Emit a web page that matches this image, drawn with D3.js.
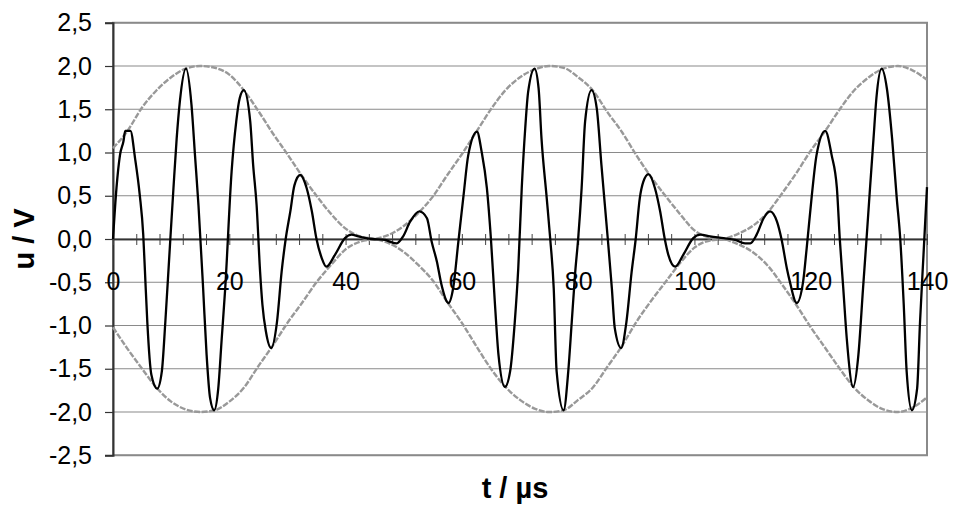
<!DOCTYPE html>
<html>
<head>
<meta charset="utf-8">
<script src="https://cdn.jsdelivr.net/npm/d3@7"></script>
<style>
  body { margin: 0; background: #fff; }
  svg { display: block; font-family: "Liberation Sans", Arial, sans-serif; }
</style>
</head>
<body>
<div id="chart"></div>
<script>
const sigT = [0.0, 0.6, 1.2, 1.8, 2.1, 3.0, 3.8, 4.6, 5.2, 5.5, 5.9, 6.6, 7.6, 8.4, 9.0, 9.7, 10.4, 10.95, 11.5, 12.55,
  13.5, 14.1, 14.7, 15.5, 16.1, 16.7, 17.4, 18.1, 18.7, 19.3, 20.4, 21.2, 21.8, 22.5,
  23.6, 24.1, 24.7, 25.3, 25.7, 26.3, 27.2, 28.2, 29.0, 29.7, 30.5, 31.2, 32.2, 33.3, 34.2, 35.0, 35.9, 36.7, 38.2, 39.9, 41.0, 42.2, 44.5, 46.8,
  47.6, 48.8, 49.9, 51.1, 52.7, 54.0, 54.8, 55.7, 56.5, 57.7, 58.5, 59.4, 60.3, 61.1, 62.6, 63.4, 64.3, 65.0, 65.7, 66.3, 67.4, 68.3, 69.1, 69.7,
  70.3, 70.9, 71.4, 72.5, 73.2, 73.7, 74.6, 75.2, 75.8, 76.3, 77.5, 78.3, 78.9, 79.5, 80.0, 80.6, 81.2, 82.3, 83.2, 84.0, 84.6, 85.1, 85.8, 86.3, 87.4, 88.3, 89.2, 89.9, 90.6, 91.2, 92.1,
  93.2, 94.1, 94.9, 95.5, 96.7, 98.1, 99.8, 101.0, 102.7, 105.0, 107.0, 108.7, 109.6, 110.7, 111.9, 113.0, 114.2, 115.0, 115.9, 116.4,
  117.6, 118.7, 119.3, 120.2, 121.0, 122.5, 123.6, 124.5, 125.0, 125.6, 126.2, 127.3, 128.2, 129.0, 129.6, 130.2, 130.8, 131.3, 132.2, 133.1, 134.0, 134.8, 135.4, 136.0, 136.5, 137.4, 138.3, 138.8, 139.4, 140.0];
const sigU = [0.0, 0.59, 0.97, 1.13, 1.25, 1.25, 0.93, 0.51, 0.05, -0.38, -0.96, -1.57, -1.73, -1.53, -0.96, -0.18, 0.59, 1.16, 1.59, 1.97,
  1.55, 0.97, 0.39, -0.57, -1.34, -1.84, -1.98, -1.73, -1.15, -0.57, 0.78, 1.36, 1.63, 1.72,
  1.36, 0.86, 0.39, -0.38, -0.76, -1.07, -1.26, -0.96, -0.38, 0.0, 0.32, 0.62, 0.74, 0.59, 0.32, 0.0, -0.22, -0.32, -0.18, 0.01, 0.05, 0.03, 0.0, -0.01,
  -0.03, -0.05, 0.03, 0.2, 0.32, 0.24, -0.03, -0.26, -0.53, -0.74, -0.57, -0.03, 0.51, 0.97, 1.24, 1.01, 0.59, 0.0, -0.76, -1.34, -1.71, -1.53, -0.96, -0.34,
  0.59, 1.28, 1.70, 1.97, 1.74, 1.16, 0.47, 0.0, -0.57, -1.53, -1.98, -1.53, -0.96, -0.38, 0.0, 0.59, 1.36, 1.72, 1.51, 0.86, 0.39, 0.0, -0.57, -1.03, -1.26, -0.96, -0.38, 0.0, 0.47, 0.66, 0.75,
  0.59, 0.32, 0.0, -0.18, -0.32, -0.18, 0.01, 0.05, 0.03, 0.01, -0.01, -0.05, -0.05, 0.05, 0.24, 0.32, 0.2, -0.01, -0.34, -0.49,
  -0.74, -0.49, -0.11, 0.51, 0.97, 1.25, 0.97, 0.59, 0.0, -0.57, -1.15, -1.71, -1.34, -0.57, 0.0, 0.59, 1.16, 1.63, 1.97, 1.74, 1.16, 0.47, 0.0, -0.76, -1.53, -1.98, -1.73, -0.96, -0.18, 0.6];

// gray envelope curves
const envT = [0, 2.5, 5, 7.5, 10, 12.5, 15, 17.5, 20, 22.5, 25, 27.5, 30, 32.5, 35, 37.5, 40, 42.5, 45, 47.5, 50, 52.5, 55, 57.5, 60, 62.5, 65, 67.5, 70,
  72.5, 75, 77.5, 80, 82.5, 85, 87.5, 90, 92.5, 95, 97.5, 100, 102.5, 105, 107.5, 110, 112.5, 115, 117.5, 120, 122.5, 125, 127.5, 130, 132.5, 135, 137.5, 140];
const envA = [1.05, 1.25, 1.52, 1.72, 1.87, 1.97, 2.0, 1.98, 1.9, 1.72, 1.48, 1.22, 0.98, 0.73, 0.5, 0.29, 0.12, 0.03, 0.0, -0.05, -0.15, -0.3, -0.48, -0.73, -0.97, -1.24, -1.5, -1.71, -1.86,
  -1.96, -2.0, -1.98, -1.86, -1.72, -1.48, -1.24, -0.96, -0.72, -0.5, -0.28, -0.1, -0.02, 0.0, 0.06, 0.15, 0.3, 0.52, 0.76, 1.02, 1.25, 1.5, 1.72, 1.87, 1.97, 2.0, 1.95, 1.84];
const envB = [-1.02, -1.27, -1.5, -1.72, -1.88, -1.97, -2.0, -1.98, -1.88, -1.72, -1.47, -1.23, -0.97, -0.74, -0.5, -0.3, -0.12, -0.03, 0.0, 0.05, 0.15, 0.3, 0.49, 0.74, 0.98, 1.24, 1.5, 1.72, 1.87,
  1.96, 2.0, 1.98, 1.87, 1.72, 1.47, 1.24, 0.97, 0.72, 0.5, 0.29, 0.1, 0.02, 0.0, -0.06, -0.15, -0.3, -0.52, -0.76, -1.02, -1.26, -1.5, -1.72, -1.87, -1.97, -2.0, -1.95, -1.83];

const yTicks = [-2.5, -2, -1.5, -1, -0.5, 0, 0.5, 1, 1.5, 2, 2.5];
const xLabels = [0, 20, 40, 60, 80, 100, 120, 140];

const width = 954;
const height = 508;
const margin = { top: 22.75, left: 113, bottom: 52.75, right: 27 };
const iwidth = width - margin.left - margin.right;
const iheight = height - margin.top - margin.bottom;

const svg = d3.select("#chart").append("svg")
  .attr("width", width)
  .attr("height", height);

const g = svg.append("g")
  .attr("transform", `translate(${margin.left},${margin.top})`);

const x = d3.scaleLinear().domain([0, 140]).range([0, iwidth]);
const y = d3.scaleLinear().domain([-2.5, 2.5]).range([iheight, 0]);

const de = d3.formatLocale({ decimal: ",", thousands: ".", grouping: [3], currency: ["", ""], minus: "-" });
const fmt = de.format(".1f");

// gridlines
g.append("g").selectAll("line").data(yTicks).enter().append("line")
  .attr("x1", 0).attr("x2", iwidth)
  .attr("y1", d => y(d)).attr("y2", d => y(d))
  .attr("stroke", "#8a8a8a").attr("stroke-width", 1.2);

// frame
g.append("rect").attr("x", 0).attr("y", 0).attr("width", iwidth).attr("height", iheight)
  .attr("fill", "none").attr("stroke", "#8a8a8a").attr("stroke-width", 2);

// y axis
const yAxis = g.append("g").call(d3.axisLeft(y).tickValues(yTicks).tickFormat(fmt).tickSize(8).tickPadding(13));
yAxis.select(".domain").attr("stroke", "#333").attr("stroke-width", 2);
yAxis.selectAll(".tick line").attr("stroke", "#333").attr("stroke-width", 1.2);
yAxis.selectAll("text").attr("font-size", 25).attr("fill", "#000").attr("font-family", "Liberation Sans, Arial, sans-serif");

// x axis at u = 0 with crossing ticks
const minorTicks = d3.range(0, 141, 4);
const xDown = g.append("g").attr("transform", `translate(0,${y(0)})`)
  .call(d3.axisBottom(x).tickValues(minorTicks).tickFormat("").tickSize(6).tickSizeOuter(0));
const xUp = g.append("g").attr("transform", `translate(0,${y(0)})`)
  .call(d3.axisTop(x).tickValues(minorTicks).tickFormat("").tickSize(5).tickSizeOuter(0));
[xDown, xUp].forEach(a => {
  a.select(".domain").attr("stroke", "#333").attr("stroke-width", 1.5);
  a.selectAll(".tick line").attr("stroke", "#444").attr("stroke-width", 1);
});

const xLab = g.append("g").attr("transform", `translate(0,${y(0)})`)
  .call(d3.axisBottom(x).tickValues(xLabels).tickFormat(d => d).tickSize(0).tickPadding(33));
xLab.select(".domain").remove();
xLab.selectAll("text").attr("font-size", 25).attr("fill", "#000").attr("font-family", "Liberation Sans, Arial, sans-serif");

// envelopes
const envLine = vals => d3.line()
  .x((d, i) => x(envT[i]))
  .y((d, i) => y(vals[i]))
  .curve(d3.curveMonotoneX)(envT);

[envA, envB].forEach(vals => {
  g.append("path")
    .attr("d", envLine(vals))
    .attr("fill", "none")
    .attr("stroke", "#999")
    .attr("stroke-width", 2.4)
    .attr("stroke-dasharray", "6,1.5");
});

// signal
const sigLine = d3.line()
  .x((d, i) => x(sigT[i]))
  .y((d, i) => y(sigU[i]))
  .curve(d3.curveMonotoneX);

g.append("path")
  .attr("d", sigLine(sigT))
  .attr("fill", "none")
  .attr("stroke", "#000")
  .attr("stroke-width", 2.3)
  .attr("stroke-linejoin", "round");

// axis titles
svg.append("text")
  .attr("x", margin.left + iwidth / 2 - 5)
  .attr("y", 498)
  .attr("text-anchor", "middle")
  .attr("font-size", 29)
  .attr("font-weight", "bold")
  .text("t / µs");

svg.append("text")
  .attr("transform", `translate(34,${margin.top + iheight / 2}) rotate(-90)`)
  .attr("text-anchor", "middle")
  .attr("font-size", 29)
  .attr("font-weight", "bold")
  .text("u / V");
</script>
</body>
</html>
